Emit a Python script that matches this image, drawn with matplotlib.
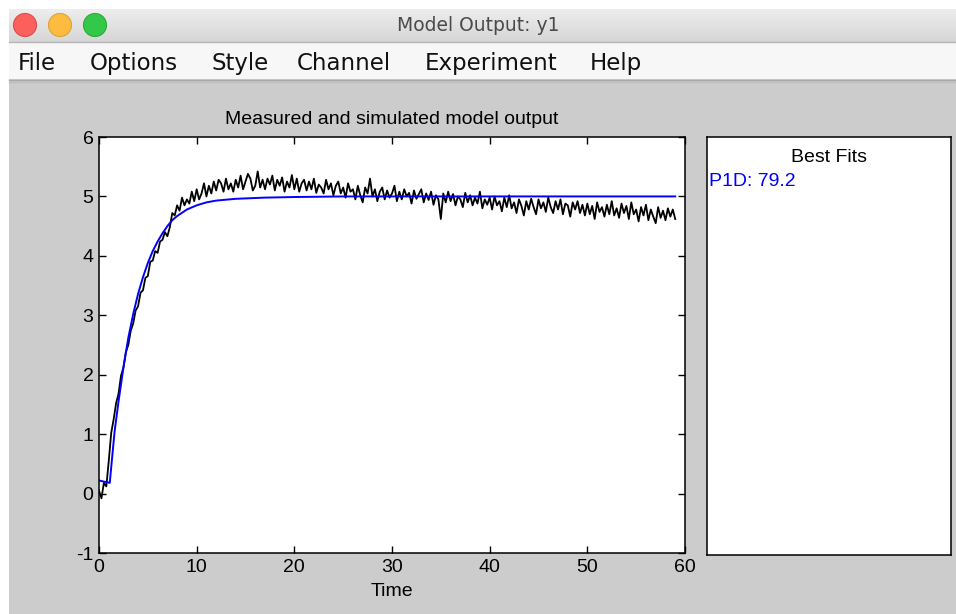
import matplotlib
matplotlib.use("Agg")
import matplotlib.pyplot as plt
import numpy as np
from matplotlib import font_manager
from matplotlib.patches import Rectangle, Circle

measured = [
    0.05, -0.08, 0.18, 0.12,
    0.55, 1.02, 1.25, 1.52,
    1.68, 1.98, 2.12, 2.38,
    2.50, 2.74, 2.86, 3.08,
    3.15, 3.38, 3.42, 3.63,
    3.66, 3.90, 3.92, 4.08,
    4.05, 4.24, 4.27, 4.40,
    4.33, 4.48, 4.72, 4.68,
    4.85, 4.76, 4.98, 4.85,
    4.95, 4.88, 5.08, 4.92,
    5.12, 4.95, 5.05, 5.22,
    5.00, 5.18, 5.05, 5.25,
    5.10, 5.28, 5.22, 5.08,
    5.30, 5.12, 5.22, 5.08,
    5.28, 5.15, 5.35, 5.12,
    5.25, 5.38, 5.30, 5.10,
    5.18, 5.42, 5.15, 5.28,
    5.12, 5.30, 5.20, 5.35,
    5.10, 5.28, 5.18, 5.32,
    5.08, 5.25, 5.15, 5.36,
    5.12, 5.30, 5.08, 5.22,
    5.28, 5.10, 5.25, 5.12,
    5.30, 5.06, 5.20, 5.15,
    5.05, 5.28, 5.12, 5.22,
    5.02, 5.18, 5.25, 5.05,
    5.15, 4.98, 5.22, 5.08,
    5.12, 4.95, 5.18, 5.02,
    4.90, 5.15, 5.05, 5.30,
    5.00, 5.12, 4.92, 5.08,
    5.15, 4.95, 5.10, 4.98,
    5.05, 5.18, 4.92, 5.08,
    4.95, 5.12, 5.00, 5.06,
    4.88, 5.10, 4.96, 5.04,
    5.12, 4.90, 5.05, 4.94,
    5.08, 4.86, 5.02, 4.95,
    4.62, 5.05, 4.90, 5.08,
    4.92, 5.04, 4.85, 5.00,
    4.95, 4.82, 5.06, 4.90,
    5.02, 4.85, 4.98, 4.88,
    5.08, 4.80, 4.95, 4.86,
    4.98, 4.78, 5.00, 4.85,
    4.92, 4.75, 4.98, 4.82,
    5.02, 4.80, 4.90, 4.72,
    4.95, 4.84, 4.68, 4.92,
    4.78, 4.96, 4.82, 4.70,
    4.95, 4.80, 4.90, 4.74,
    4.98, 4.82, 4.72, 4.92,
    4.78, 4.95, 4.70, 4.88,
    4.85, 4.66, 4.90, 4.78,
    4.92, 4.72, 4.86, 4.68,
    4.88, 4.70, 4.84, 4.62,
    4.90, 4.74, 4.82, 4.66,
    4.86, 4.70, 4.92, 4.68,
    4.80, 4.64, 4.88, 4.72,
    4.84, 4.62, 4.90, 4.70,
    4.78, 4.58, 4.82, 4.68,
    4.86, 4.60, 4.78, 4.66,
    4.55, 4.82, 4.64, 4.76,
    4.60, 4.80, 4.66, 4.78,
    4.62,
]
t_measured = np.arange(len(measured)) * 0.25

# simulated P1D model output
t_sim = [0, 1.1, 1.6, 2.0, 2.5, 3.0, 3.5, 4.0, 4.5, 5.0, 5.5, 6.0, 6.5, 7.0,
         7.5, 8.0, 9.0, 10.0, 11.0, 12.0, 14.0, 17.0, 20.0, 25.0, 30.0,
         40.0, 50.0, 59.0]
y_sim = [0.22, 0.18, 1.05, 1.55, 2.12, 2.62, 3.02, 3.36, 3.64, 3.88, 4.08,
         4.24, 4.38, 4.50, 4.60, 4.67, 4.78, 4.85, 4.90, 4.93, 4.96, 4.98,
         4.99, 5.0, 5.0, 5.0, 5.0, 5.0]

x_ticks = [0, 10, 20, 30, 40, 50, 60]
y_ticks = [-1, 0, 1, 2, 3, 4, 5, 6]
menu_items = ["File", "Options", "Style", "Channel", "Experiment", "Help"]
menu_x = [18, 90, 212, 297, 425, 590]
fit_label = "P1D: 79.2"

names = {f.name for f in font_manager.fontManager.ttflist}
plot_font = "Liberation Sans" if "Liberation Sans" in names else "DejaVu Sans"
plt.rcParams["font.family"] = [plot_font, "DejaVu Sans"]
plt.rcParams["axes.unicode_minus"] = False

W, H = 956, 614
fig = plt.figure(figsize=(W / 100, H / 100), dpi=100)
fig.patch.set_facecolor("white")

# window chrome in pixel coordinates
bg = fig.add_axes([0, 0, 1, 1], zorder=0)
bg.set_xlim(0, W)
bg.set_ylim(H, 0)
bg.axis("off")

grad = np.linspace(0, 1, 50).reshape(-1, 1)
bg.imshow(grad, cmap=matplotlib.colors.LinearSegmentedColormap.from_list(
    "bar", ["#ededed", "#d6d6d6"]), extent=[9, W, 42, 9], aspect="auto")
bg.add_patch(Rectangle((9, 42), W - 9, 37, color="#f7f7f7", lw=0))
bg.add_patch(Rectangle((9, 79), W - 9, H - 79, color="#cccccc", lw=0))
bg.plot([9, W], [42, 42], color="#b5b5b5", lw=1)
bg.plot([9, W], [79.5, 79.5], color="#a8a8a8", lw=1)
bg.plot([9, W], [82, 82], color="#bdbdbd", lw=1)

for cx, fc, ec in [(25, "#fc605c", "#de4a47"), (60, "#fdbc40", "#dea236"),
                   (95, "#34c84a", "#27aa35")]:
    bg.add_patch(Circle((cx, 25), 11.5, facecolor=fc, edgecolor=ec, lw=0.8))

bg.text(478, 31, "Model Output: y1", ha="center", va="baseline",
        fontsize=13.5, color="#4a4a4a", family="DejaVu Sans")
for label, x in zip(menu_items, menu_x):
    bg.text(x, 70, label, ha="left", va="baseline", fontsize=16.5,
            color="#111111", family="DejaVu Sans")

# main plot
ax = fig.add_axes([99 / W, 1 - 553 / H, 586 / W, 416 / H], zorder=2)
ax.plot(t_measured, measured, color="black", lw=1.3)
ax.plot(t_sim, y_sim, color="#0000ff", lw=1.4)
ax.set_xlim(0, 60)
ax.set_ylim(-1, 6)
ax.set_xticks(x_ticks)
ax.set_yticks(y_ticks)
ax.tick_params(direction="in", top=True, right=True, length=5, width=1,
               labelsize=14, pad=4, colors="black")
for s in ax.spines.values():
    s.set_linewidth(1.1)
ax.set_title("Measured and simulated model output", fontsize=14, pad=9)
ax.set_xlabel("Time", fontsize=14, labelpad=5)

# best fits panel
fx = fig.add_axes([707 / W, 1 - 555 / H, 244 / W, 418 / H], zorder=2)
fx.set_xticks([])
fx.set_yticks([])
for s in fx.spines.values():
    s.set_linewidth(1.1)
fx.text(0.5, 1 - 20 / 418, "Best Fits", transform=fx.transAxes,
        ha="center", va="center", fontsize=14)
fx.text(2 / 244, 1 - 45 / 418, fit_label, transform=fx.transAxes,
        ha="left", va="center", fontsize=14, color="#0000ff")

fig.savefig("out.png", dpi=100)
